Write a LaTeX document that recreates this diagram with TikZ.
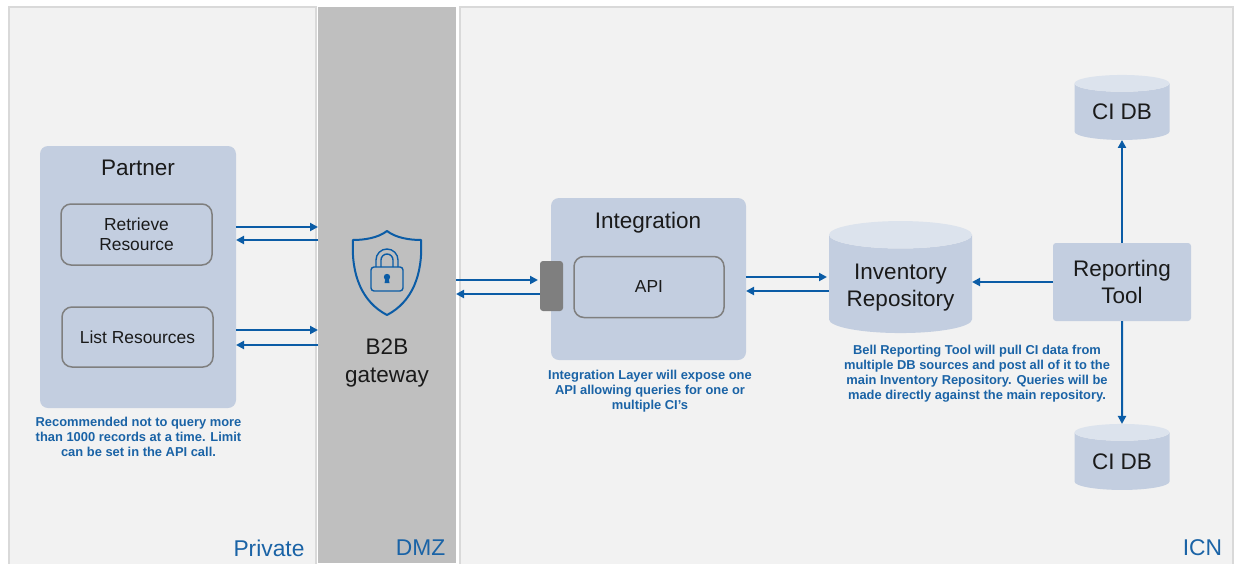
\documentclass[tikz,border=0pt]{standalone}
\usepackage{fontspec}
\setmainfont{Liberation Sans}
\usepackage{xcolor}
\usetikzlibrary{
	shapes.geometric,
	arrows.meta % for the connector tips
	}
\definecolor{panelblue}{HTML}{C3CEE0}
\definecolor{capblue}{HTML}{DCE3ED}
\definecolor{flowblue}{HTML}{0B5CA6}
\definecolor{noteblue}{HTML}{1A63A6}
\definecolor{zonegray}{HTML}{F2F2F2}
\definecolor{zoneline}{HTML}{D9D9D9}
\definecolor{boxline}{HTML}{7F7F7F}
\definecolor{inktext}{HTML}{1A1A1A}

\begin{document}
\begin{tikzpicture}[
                x=1pt,y=-1pt,
                zone/.style={rectangle,draw=zoneline,fill=zonegray,line width=1.5pt,inner sep=0pt,outer sep=0pt},
                dmz/.style={rectangle,fill=black!25,inner sep=0pt,outer sep=0pt},
                panel/.style={rectangle,rounded corners=8pt,fill=panelblue,inner sep=0pt,outer sep=0pt},
                item/.style={rectangle,rounded corners=10pt,draw=boxline,fill=panelblue,line width=1.5pt,inner sep=0pt,outer sep=0pt,align=center,font=\fontsize{17.4}{20.5}\selectfont,text=inktext},
                port/.style={rectangle,rounded corners=3pt,fill=boxline,inner sep=0pt,outer sep=0pt},
                tool/.style={rectangle,rounded corners=3pt,fill=panelblue,inner sep=0pt,outer sep=0pt,align=center,font=\fontsize{22.5}{27}\selectfont,text=inktext},
                db/.style={cylinder,shape border rotate=90,cylinder uses custom fill,cylinder body fill=panelblue,cylinder end fill=capblue,inner sep=0pt,outer sep=0pt,align=center,font=\fontsize{22.5}{27}\selectfont,text=inktext},
                title/.style={inner sep=0pt,align=center,font=\fontsize{22.5}{28}\selectfont,text=inktext},
                note/.style={inner sep=0pt,align=center,font=\fontsize{12.9}{15.2}\selectfont\bfseries,text=noteblue},
                zonename/.style={inner sep=0pt,font=\fontsize{22.8}{26}\selectfont,text=noteblue},
                flow/.style={draw=flowblue,line width=2pt,-{Triangle[length=8pt,width=8pt]}},
                icon/.style={draw=flowblue,line width=1.4pt,line join=round},
            ]
                \useasboundingbox (0,0) rectangle (1235,563);

                % Zones
                \node[zone,minimum width=307pt,minimum height=560pt] (private) at (162.5,287) {};
                \node[zone,minimum width=773pt,minimum height=560pt] (icn) at (846.5,287) {};
                \node[dmz,minimum width=138pt,minimum height=556pt] (gateway) at (387,285) {};

                \node[zonename] (privatename) at (269,548) {Private};
                \node[zonename] (dmzname) at (420.5,548) {DMZ};
                \node[zonename] (icnname) at (1202.5,548) {ICN};

                % Partner
                \node[panel,minimum width=196pt,minimum height=262pt] (partner) at (138,277) {};
                \node[title] (partnername) at (138,168) {Partner};
                \node[item,minimum width=151pt,minimum height=61pt] (retrieve) at (136.5,234.5) {Retrieve\\Resource};
                \node[item,minimum width=151pt,minimum height=60pt] (list) at (137.5,337) {List Resources};
                \node[note] (partnernote) at (138.5,437) {Recommended not to query more\\than 1000 records at a time. Limit\\can be set in the API call.};

                % Gateway, the shield is drawn by hand
                \draw[icon,line width=2pt] (387,231) .. controls (396,238) and (410,240) .. (421,240)
                    .. controls (423,275) and (412,302) .. (387,315)
                    .. controls (362,302) and (351,275) .. (353,240)
                    .. controls (364,240) and (378,238) .. (387,231) -- cycle;
                \draw[icon,rounded corners=3pt] (371,267) rectangle (403,291);
                \draw[icon] (376,267) -- (376,260) arc[start angle=180,end angle=360,radius=11] -- (398,267);
                \draw[icon] (381,267) -- (381,260) arc[start angle=180,end angle=360,radius=6] -- (393,267);
                \fill[flowblue] (387,277) circle (3.2pt);
                \fill[flowblue] (385.5,278) -- (388.5,278) -- (389.5,283) -- (384.5,283) -- cycle;
                \node[title] (gatewayname) at (387,363) {B2B\\gateway};

                % Integration
                \node[panel,minimum width=195pt,minimum height=162pt] (integration) at (648.5,279) {};
                \node[port,minimum width=23pt,minimum height=50pt] (apiport) at (551.5,286) {};
                \node[title] (integrationname) at (648,223) {Integration};
                \node[item,minimum width=150pt,minimum height=61pt] (api) at (649,287) {API};
                \node[note] (integrationnote) at (650,391) {Integration Layer will expose one\\API allowing queries for one or\\multiple CI’s};

                % Repository and reporting
                % the empty lines keep the cap of the cylinder in shape, the text sits lower
                \node[db,minimum width=143pt,minimum height=112pt,aspect=0.255] (inventory) at (900.5,284) {\phantom{Inventory}\\\phantom{Repository}};
                \node[title] (inventoryname) at (900.5,287.5) {Inventory\\[-1pt]Repository};
                \node[tool,minimum width=138pt,minimum height=78pt] (reporting) at (1122,282) {Reporting\\Tool};
                \node[db,minimum width=95pt,minimum height=65pt,aspect=0.28] (citop) at (1122,111.75) {CI DB};
                \node[db,minimum width=95pt,minimum height=66pt,aspect=0.28] (cibottom) at (1122,461.25) {CI DB};
                \node[note] (reportingnote) at (977,373.5) {Bell Reporting Tool will pull CI data from\\multiple DB sources and post all of it to the\\main Inventory Repository. Queries will be\\made directly against the main repository.};

                % Levels of the paired connectors
                \coordinate (retrieveout) at (0,227);
                \coordinate (retrievein) at (0,240);
                \coordinate (listout) at (0,330);
                \coordinate (listin) at (0,345);
                \coordinate (portout) at (0,280);
                \coordinate (portin) at (0,294);
                \coordinate (repoout) at (0,277);
                \coordinate (repoin) at (0,291);

                \draw[flow] (partner.east |- retrieveout) -- (gateway.west |- retrieveout);
                \draw[flow] (gateway.west |- retrievein) -- (partner.east |- retrievein);
                \draw[flow] (partner.east |- listout) -- (gateway.west |- listout);
                \draw[flow] (gateway.west |- listin) -- (partner.east |- listin);
                \draw[flow,shorten >=2pt] (gateway.east |- portout) -- (apiport.west |- portout);
                \draw[flow] (apiport.west |- portin) -- (gateway.east |- portin);
                \draw[flow,shorten >=2pt] (integration.east |- repoout) -- (inventory.west |- repoout);
                \draw[flow] (inventory.west |- repoin) -- (integration.east |- repoin);
                \draw[flow] (reporting.west) -- (inventory.east |- reporting.west);
                \draw[flow] (reporting.north) -- (citop.south);
                \draw[flow] (reporting.south) -- (cibottom.north);

            \end{tikzpicture}
\end{document}
